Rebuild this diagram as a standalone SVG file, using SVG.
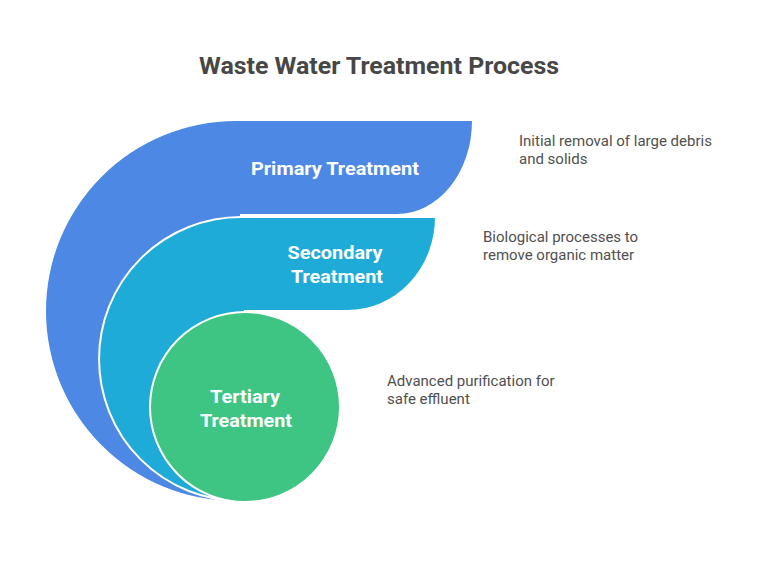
<svg xmlns="http://www.w3.org/2000/svg" width="757" height="565" viewBox="0 0 757 565">
  <style>
    .title { font-family: Roboto, "Liberation Sans", sans-serif; font-weight: bold; font-size: 23px; fill: #474747; text-anchor: middle; }
    .label { font-family: Roboto, "Liberation Sans", sans-serif; font-weight: bold; font-size: 19px; fill: #ffffff; text-anchor: middle; }
    .desc { font-family: Roboto, "Liberation Sans", sans-serif; font-size: 15px; fill: #505050; }
    .edge { stroke: #ffffff; stroke-width: 2; }
  </style>
  <rect width="757" height="565" fill="#ffffff"/>
  <text class="title" x="379" y="74" textLength="360" lengthAdjust="spacingAndGlyphs">Waste Water Treatment Process</text>

  <g id="primary">
    <path d="M 236 501 A 190 190 0 0 1 236 121 L 472 121 A 75 93 0 0 1 397 214 L 240 214 Z" fill="#4E88E5"/>
    <text class="label" x="335" y="175" textLength="168" lengthAdjust="spacingAndGlyphs">Primary Treatment</text>
  </g>

  <g id="secondary">
    <path class="edge" d="M 241 501 A 142 142 0 0 1 241 217 L 436 217 A 88 94 0 0 1 348 311 L 245 311 Z" fill="#1FABD8"/>
    <text class="label" x="335" y="259" textLength="95" lengthAdjust="spacingAndGlyphs">Secondary</text>
    <text class="label" x="337" y="283" textLength="92" lengthAdjust="spacingAndGlyphs">Treatment</text>
  </g>

  <g id="tertiary">
    <circle class="edge" cx="245" cy="407" r="95" fill="#3EC583"/>
    <text class="label" x="245" y="403" textLength="70" lengthAdjust="spacingAndGlyphs">Tertiary</text>
    <text class="label" x="246" y="427" textLength="92" lengthAdjust="spacingAndGlyphs">Treatment</text>
  </g>

  <g id="descriptions">
    <text class="desc" x="519" y="146">Initial removal of large debris</text>
    <text class="desc" x="519" y="164">and solids</text>
    <text class="desc" x="483" y="242">Biological processes to</text>
    <text class="desc" x="483" y="260">remove organic matter</text>
    <text class="desc" x="387" y="386">Advanced purification for</text>
    <text class="desc" x="387" y="404">safe effluent</text>
  </g>

  <g id="connectors"></g>
</svg>
